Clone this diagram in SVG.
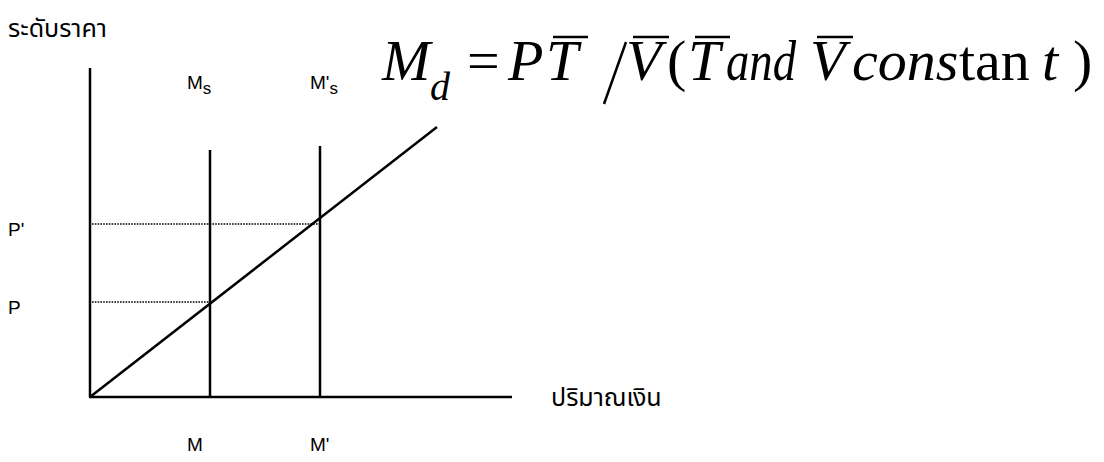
<svg xmlns="http://www.w3.org/2000/svg" width="1104" height="462" viewBox="0 0 1104 462">
<style>
.ln{stroke:#000;stroke-width:2.5;fill:none}
.dot{stroke:#000;stroke-width:1.6;stroke-dasharray:1.6 1.2;fill:none}
.lb{font-family:"Liberation Sans",Arial,sans-serif;font-size:19px;fill:#000}
.th{font-family:"Noto Sans Thai","Tahoma","Noto Sans",sans-serif;font-size:25px;fill:#000}
.eq{font-family:"Liberation Serif","Times New Roman",serif;font-size:58px;fill:#000}
.it{font-style:italic}
.up{font-style:normal}
.bar{stroke:#000;stroke-width:2.5}
</style>
<rect width="1104" height="462" fill="#fff"/>
<g id="connectors">
<line class="ln" x1="90" y1="68" x2="90" y2="397"/>
<line class="ln" x1="89" y1="397" x2="512" y2="397"/>
<line class="ln" x1="210" y1="150" x2="210" y2="397"/>
<line class="ln" x1="320" y1="146" x2="320" y2="397"/>
<line class="ln" x1="90" y1="397" x2="437" y2="127"/>
<line class="dot" x1="92" y1="224" x2="320" y2="224"/>
<line class="dot" x1="92" y1="302" x2="210" y2="302"/>
</g>
<g id="axis-labels">
<text class="th" x="8" y="37">ระดับราคา</text>
<text class="th" x="551" y="406">ปริมาณเงิน</text>
</g>
<g id="price-labels">
<text class="lb" x="8" y="236">P'</text>
<text class="lb" x="8" y="314">P</text>
</g>
<g id="money-labels">
<text class="lb" x="187" y="451">M</text>
<text class="lb" x="310" y="451">M'</text>
<text class="lb" x="187" y="89">M<tspan font-size="17" dy="5">s</tspan></text>
<text class="lb" x="310" y="89">M'<tspan font-size="17" dy="5">s</tspan></text>
</g>
<g id="equation">
<text class="eq it" x="382" y="80">M<tspan x="430" y="100" font-size="40">d</tspan><tspan class="up" x="467" y="80">=</tspan><tspan x="508">P</tspan><tspan x="546">T</tspan><tspan x="626">V</tspan><tspan class="up" x="667">(</tspan><tspan x="688">T</tspan><tspan x="726" textLength="70" lengthAdjust="spacingAndGlyphs">and</tspan><tspan x="810">V</tspan><tspan x="852">cons</tspan><tspan class="up" x="959">tan</tspan><tspan x="1042">t</tspan><tspan class="up" x="1073">)</tspan></text>
<line class="bar" x1="553" y1="37" x2="588" y2="37"/>
<line class="bar" x1="604" y1="104" x2="626" y2="42"/>
<line class="bar" x1="633" y1="37" x2="669" y2="37"/>
<line class="bar" x1="695" y1="37" x2="730" y2="37"/>
<line class="bar" x1="817" y1="37" x2="853" y2="37"/>
</g>
</svg>
